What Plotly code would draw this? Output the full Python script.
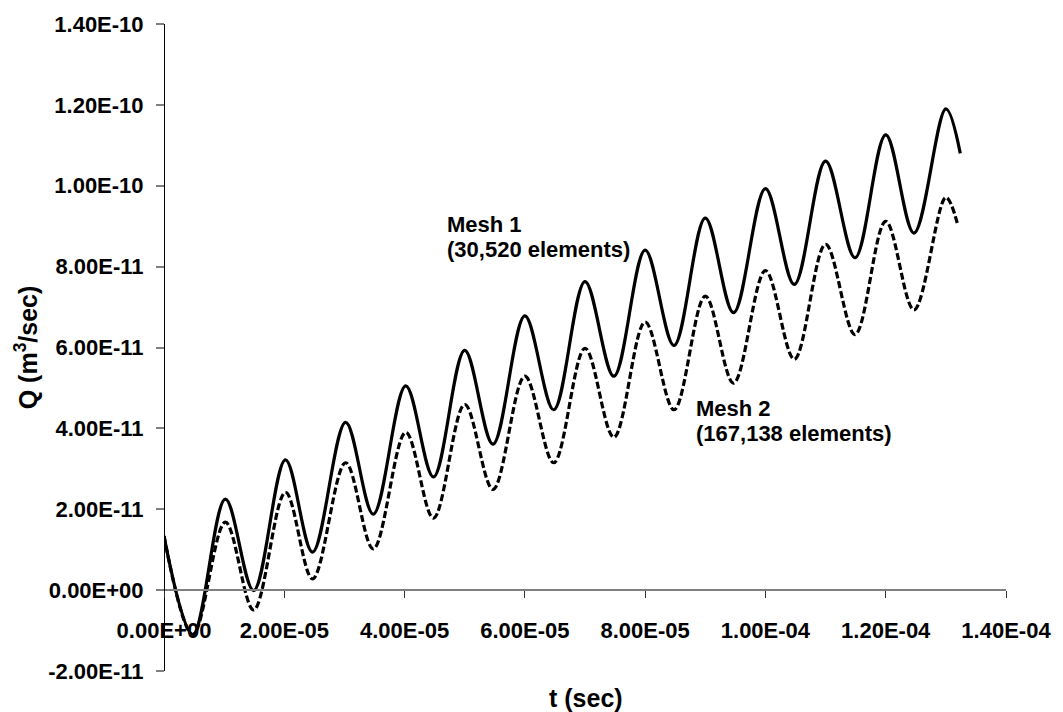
import plotly.graph_objects as go

# ---- data ----
t_mesh1 = [0.0, 0.48e-5, 1.02e-5, 1.49e-5, 2.02e-5, 2.47e-5, 3.02e-5, 3.48e-5, 4.02e-5, 4.48e-5,
           5.0e-5, 5.47e-5, 6.0e-5, 6.48e-5, 7.0e-5, 7.48e-5, 8.0e-5, 8.48e-5, 9.0e-5, 9.47e-5,
           10.0e-5, 10.48e-5, 11.0e-5, 11.49e-5, 12.0e-5, 12.47e-5, 13.0e-5, 13.24e-5]
q_mesh1 = [13.4e-12, -11.0e-12, 22.5e-12, -0.1e-12, 32.2e-12, 9.4e-12, 41.5e-12, 18.8e-12, 50.5e-12, 28.0e-12,
           59.3e-12, 36.1e-12, 67.8e-12, 44.6e-12, 76.3e-12, 52.9e-12, 84.1e-12, 60.5e-12, 92.0e-12, 68.6e-12,
           99.3e-12, 75.6e-12, 106.1e-12, 82.2e-12, 112.6e-12, 88.3e-12, 119.0e-12, 108.0e-12]

t_mesh2 = [0.0, 0.48e-5, 1.02e-5, 1.49e-5, 2.02e-5, 2.47e-5, 3.02e-5, 3.48e-5, 4.02e-5, 4.48e-5,
           5.0e-5, 5.47e-5, 6.0e-5, 6.48e-5, 7.0e-5, 7.48e-5, 8.0e-5, 8.48e-5, 9.0e-5, 9.47e-5,
           10.0e-5, 10.48e-5, 11.0e-5, 11.49e-5, 12.0e-5, 12.47e-5, 13.0e-5, 13.2e-5]
q_mesh2 = [13.4e-12, -11.0e-12, 16.8e-12, -4.9e-12, 24.2e-12, 2.8e-12, 31.5e-12, 10.2e-12, 39.0e-12, 17.8e-12,
           45.9e-12, 24.9e-12, 52.9e-12, 31.5e-12, 59.8e-12, 37.8e-12, 66.3e-12, 44.6e-12, 72.7e-12, 51.2e-12,
           79.0e-12, 57.1e-12, 85.5e-12, 63.2e-12, 91.2e-12, 69.3e-12, 97.1e-12, 90.2e-12]

x_tickvals = [0, 2e-5, 4e-5, 6e-5, 8e-5, 1e-4, 1.2e-4, 1.4e-4]
x_ticktext = ["0.00E+00", "2.00E-05", "4.00E-05", "6.00E-05", "8.00E-05", "1.00E-04", "1.20E-04", "1.40E-04"]
y_tickvals = [-2e-11, 0, 2e-11, 4e-11, 6e-11, 8e-11, 1e-10, 1.2e-10, 1.4e-10]
y_ticktext = ["-2.00E-11", "0.00E+00", "2.00E-11", "4.00E-11", "6.00E-11", "8.00E-11",
              "1.00E-10", "1.20E-10", "1.40E-10"]

FONT = "Liberation Sans, Arial, sans-serif"
FS = 22
FS_TITLE = 25

fig = go.Figure()
fig.add_trace(go.Scatter(x=t_mesh1, y=q_mesh1, mode="lines", name="Mesh 1",
                         line=dict(color="black", width=3.2, shape="spline", smoothing=1.0)))
fig.add_trace(go.Scatter(x=t_mesh2, y=q_mesh2, mode="lines", name="Mesh 2",
                         line=dict(color="black", width=3.2, shape="spline", smoothing=1.0,
                                   dash="7px,3px")))

W, H = 1063, 712
L, R, T, B = 164, 52, 19, 41
pw, ph = W - L - R, H - T - B

def px(x):
    return (x - L) / pw

def py(y):
    return (H - B - y) / ph

fig.update_layout(
    width=W, height=H,
    margin=dict(l=L, r=R, t=T, b=B),
    paper_bgcolor="white", plot_bgcolor="white",
    showlegend=False,
    font=dict(family=FONT, size=FS, color="black", weight="bold"),
    xaxis=dict(range=[0, 1.4e-4], tickvals=x_tickvals, ticktext=x_ticktext,
               showgrid=False, zeroline=False, showline=True, linecolor="#808080", linewidth=2,
               ticks="outside", ticklen=7, tickwidth=1, tickcolor="#333333",
               anchor="free", position=0.125, ticklabelstandoff=13,
               tickfont=dict(family=FONT, size=FS, color="black", weight="bold")),
    yaxis=dict(range=[-2e-11, 1.4e-10], tickvals=y_tickvals, ticktext=y_ticktext,
               showgrid=False, zeroline=False, showline=True, linecolor="black", linewidth=1,
               ticks="outside", ticklen=8, tickwidth=2, tickcolor="#808080",
               anchor="free", position=0, ticklabelstandoff=8,
               tickfont=dict(family=FONT, size=FS, color="black", weight="bold")),
)

annos = [
    dict(text="Mesh 1", x=px(447), y=py(221), xanchor="left", yanchor="middle", size=FS),
    dict(text="(30,520 elements)", x=px(447), y=py(246), xanchor="left", yanchor="middle", size=FS),
    dict(text="Mesh 2", x=px(697), y=py(406), xanchor="left", yanchor="middle", size=FS),
    dict(text="(167,138 elements)", x=px(697), y=py(432), xanchor="left", yanchor="middle", size=FS),
    dict(text="t (sec)", x=px(589), y=py(698), xanchor="center", yanchor="middle", size=FS_TITLE),
    dict(text="Q (m<sup>3</sup>/sec)", x=px(25), y=py(345), xanchor="center", yanchor="middle",
         textangle=-90, size=FS_TITLE),
]
for a in annos:
    size = a.pop("size")
    fig.add_annotation(xref="paper", yref="paper", showarrow=False,
                       font=dict(family=FONT, size=size, color="black", weight="bold"), **a)

fig.write_html("out.html")
